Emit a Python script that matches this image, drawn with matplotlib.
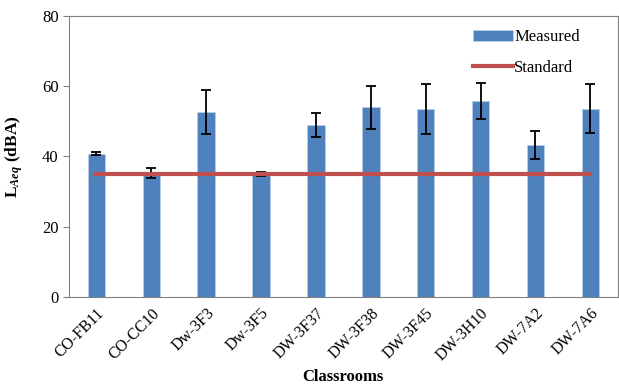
import matplotlib
matplotlib.use("Agg")
import matplotlib.pyplot as plt
import numpy as np

# ============================
# DATA
# ============================
classrooms = ["CO-FB11", "CO-CC10", "Dw-3F3", "Dw-3F5", "DW-3F37",
              "DW-3F38", "DW-3F45", "DW-3H10", "DW-7A2", "DW-7A6"]
measured = [40.8, 35.3, 52.6, 35.0, 48.9, 54.0, 53.6, 55.8, 43.2, 53.6]
errors = [0.4, 1.4, 6.2, 0.5, 3.4, 6.2, 7.1, 5.0, 4.0, 6.9]
standard = [35] * len(classrooms)

plt.rcParams["font.family"] = ["Liberation Serif", "DejaVu Serif"]
plt.rcParams["mathtext.fontset"] = "custom"
plt.rcParams["mathtext.it"] = "Liberation Serif:bold:italic"

fig = plt.figure(figsize=(6.19, 3.84), dpi=100)
ax = fig.add_axes([0.1115, 0.2266, 0.8865, 0.7318])

x = np.arange(len(classrooms))
bars = ax.bar(x, measured, width=0.32, color="#4F81BD", edgecolor="#B9CDE5",
              linewidth=0.6, label="Measured", zorder=2)
ax.errorbar(x, measured, yerr=errors, fmt="none", ecolor="black",
            elinewidth=1.3, capsize=3.5, capthick=1.3, zorder=3)
line, = ax.plot(x, standard, color="#C0504D", lw=3, label="Standard", zorder=4)

ax.set_xlim(-0.5, len(classrooms) - 0.5)
ax.set_ylim(0, 80)
ax.set_yticks([0, 20, 40, 60, 80])
ax.set_xticks(x)
ax.set_xticklabels(classrooms, rotation=45, ha="right", rotation_mode="anchor",
                   fontsize=11.5)
ax.tick_params(axis="y", labelsize=12, length=4, color="#808080", direction="out")
ax.tick_params(axis="x", length=0, pad=6)
for s in ax.spines.values():
    s.set_color("#808080")

ax.set_ylabel(r"L$_{\mathit{Aeq}}$ (dBA)", fontsize=12.5, fontweight="bold", labelpad=12)
fig.text(343 / 619, 1 - 377 / 384, "Classrooms", fontsize=12, fontweight="bold",
         ha="center", va="center")

ax.legend([bars, line], ["Measured", "Standard"], loc="upper right",
          bbox_to_anchor=(0.943, 0.976), frameon=False,
          fontsize=12, handlelength=2.4, handletextpad=0.1, labelspacing=0.85,
          borderaxespad=0)

fig.savefig("out.png", dpi=100)
